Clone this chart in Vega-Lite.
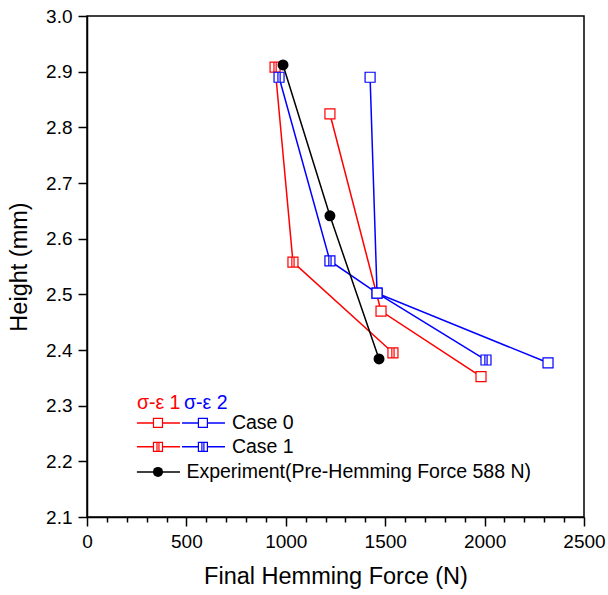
{
  "$schema": "https://vega.github.io/schema/vega-lite/v6.json",
  "width": 497,
  "height": 501,
  "autosize": {"type": "none"},
  "padding": {"left": 87, "top": 16, "right": 24, "bottom": 78},
  "background": "white",
  "config": {
    "font": "Liberation Sans",
    "view": {"stroke": "black", "strokeWidth": 1.5},
    "axis": {"grid": false, "domainColor": "black", "domainWidth": 1.5, "tickColor": "black", "tickWidth": 1.5, "labelColor": "black", "titleColor": "black", "labelFont": "Liberation Sans", "titleFont": "Liberation Sans", "labelFontSize": 19, "titleFontSize": 23.5, "titleFontWeight": "normal"}
  },
  "datasets": {
    "main": [
      {"s": "r0", "m": "sq", "o": 1, "F": 1222, "H": 2.824},
      {"s": "r0", "m": "sq", "o": 2, "F": 1479, "H": 2.470},
      {"s": "r0", "m": "sq", "o": 3, "F": 1982, "H": 2.352},
      {"s": "r1", "m": "sqv", "o": 1, "F": 946, "H": 2.908},
      {"s": "r1", "m": "sqv", "o": 2, "F": 1036, "H": 2.558},
      {"s": "r1", "m": "sqv", "o": 3, "F": 1539, "H": 2.395},
      {"s": "b1", "m": "sqv", "o": 1, "F": 966, "H": 2.890},
      {"s": "b1", "m": "sqv", "o": 2, "F": 1222, "H": 2.560},
      {"s": "b1", "m": "sqv", "o": 3, "F": 1459, "H": 2.502},
      {"s": "b1", "m": "sqv", "o": 4, "F": 2007, "H": 2.382},
      {"s": "b0", "m": "sq", "o": 1, "F": 1424, "H": 2.890},
      {"s": "b0", "m": "sq", "o": 2, "F": 1459, "H": 2.502},
      {"s": "b0", "m": "sq", "o": 3, "F": 2319, "H": 2.377},
      {"s": "exp", "m": "dot", "o": 1, "F": 986, "H": 2.912},
      {"s": "exp", "m": "dot", "o": 2, "F": 1222, "H": 2.641},
      {"s": "exp", "m": "dot", "o": 3, "F": 1469, "H": 2.384}
    ],
    "legline": [
      {"g": "a", "s": "r0", "F": 251, "H": 2.269},
      {"g": "a", "s": "r0", "F": 468, "H": 2.269},
      {"g": "b", "s": "b0", "F": 478, "H": 2.269},
      {"g": "b", "s": "b0", "F": 694, "H": 2.269},
      {"g": "c", "s": "r1", "F": 251, "H": 2.226},
      {"g": "c", "s": "r1", "F": 468, "H": 2.226},
      {"g": "d", "s": "b1", "F": 478, "H": 2.226},
      {"g": "d", "s": "b1", "F": 694, "H": 2.226},
      {"g": "e", "s": "exp", "F": 251, "H": 2.181},
      {"g": "e", "s": "exp", "F": 468, "H": 2.181}
    ],
    "legpt": [
      {"s": "r0", "m": "sq", "F": 357, "H": 2.269},
      {"s": "b0", "m": "sq", "F": 583, "H": 2.269},
      {"s": "r1", "m": "sqv", "F": 357, "H": 2.226},
      {"s": "b1", "m": "sqv", "F": 583, "H": 2.226},
      {"s": "exp", "m": "dot", "F": 357, "H": 2.181}
    ],
    "legtext": [
      {"s": "r0", "t": "σ-ε 1", "F": 251, "H": 2.305},
      {"s": "b0", "t": "σ-ε 2", "F": 488, "H": 2.305},
      {"s": "exp", "t": "Case 0", "F": 729, "H": 2.269},
      {"s": "exp", "t": "Case 1", "F": 729, "H": 2.226},
      {"s": "exp", "t": "Experiment(Pre-Hemming Force 588 N)", "F": 500, "H": 2.181}
    ]
  },
  "encoding": {
    "x": {"field": "F", "type": "quantitative", "scale": {"domain": [0, 2500], "nice": false, "zero": false},
      "axis": {"title": "Final Hemming Force (N)", "format": "d", "values": [0,100,200,300,400,500,600,700,800,900,1000,1100,1200,1300,1400,1500,1600,1700,1800,1900,2000,2100,2200,2300,2400,2500],
        "labelExpr": "datum.value % 500 === 0 ? datum.label : ''",
        "tickSize": {"condition": {"test": "datum.value % 500 === 0", "value": 9}, "value": 5},
        "labelPadding": 6, "titlePadding": 13, "labelFlush": false, "labelOverlap": false}},
    "y": {"field": "H", "type": "quantitative", "scale": {"domain": [2.1, 3.0], "nice": false, "zero": false},
      "axis": {"title": "Height (mm)", "values": [2.1,2.2,2.3,2.4,2.5,2.6,2.7,2.8,2.9,3.0], "format": ".1f", "tickSize": 9, "labelPadding": 6, "titlePadding": 14, "labelFlush": false, "labelOverlap": false}},
    "color": {"field": "s", "type": "nominal", "legend": null,
      "scale": {"domain": ["r0", "r1", "b0", "b1", "exp"], "range": ["#ff0000", "#ff0000", "#0000ff", "#0000ff", "#000000"]}}
  },
  "layer": [
    {"data": {"name": "main"}, "mark": {"type": "line", "strokeWidth": 1.5},
      "encoding": {"order": {"field": "o", "type": "quantitative"}, "detail": {"field": "s"}}},
    {"data": {"name": "legline"}, "mark": {"type": "line", "strokeWidth": 1.5},
      "encoding": {"detail": {"field": "g"}}},
    {"data": {"name": "main"}, "transform": [{"filter": "datum.m === 'sqv'"}],
      "mark": {"type": "point", "shape": "M-1,-1H1V1H-1Z M-0.22,-1V1 M0.22,-1V1", "size": 100, "filled": false, "fill": "white", "fillOpacity": 1, "strokeWidth": 1.2, "opacity": 1}},
    {"data": {"name": "main"}, "transform": [{"filter": "datum.m === 'sq'"}],
      "mark": {"type": "point", "shape": "square", "size": 100, "filled": false, "fill": "white", "fillOpacity": 1, "strokeWidth": 1.2, "opacity": 1}},
    {"data": {"name": "main"}, "transform": [{"filter": "datum.m === 'dot'"}],
      "mark": {"type": "point", "shape": "circle", "size": 120, "filled": true, "opacity": 1}},
    {"data": {"name": "legpt"}, "transform": [{"filter": "datum.m === 'sqv'"}],
      "mark": {"type": "point", "shape": "M-1,-1H1V1H-1Z M-0.22,-1V1 M0.22,-1V1", "size": 81, "filled": false, "fill": "white", "fillOpacity": 1, "strokeWidth": 1.2, "opacity": 1}},
    {"data": {"name": "legpt"}, "transform": [{"filter": "datum.m === 'sq'"}],
      "mark": {"type": "point", "shape": "square", "size": 81, "filled": false, "fill": "white", "fillOpacity": 1, "strokeWidth": 1.2, "opacity": 1}},
    {"data": {"name": "legpt"}, "transform": [{"filter": "datum.m === 'dot'"}],
      "mark": {"type": "point", "shape": "circle", "size": 100, "filled": true, "opacity": 1}},
    {"data": {"name": "legtext"}, "mark": {"type": "text", "align": "left", "baseline": "middle", "fontSize": 19.5, "font": "Liberation Sans"},
      "encoding": {"text": {"field": "t"}}}
  ]
}
